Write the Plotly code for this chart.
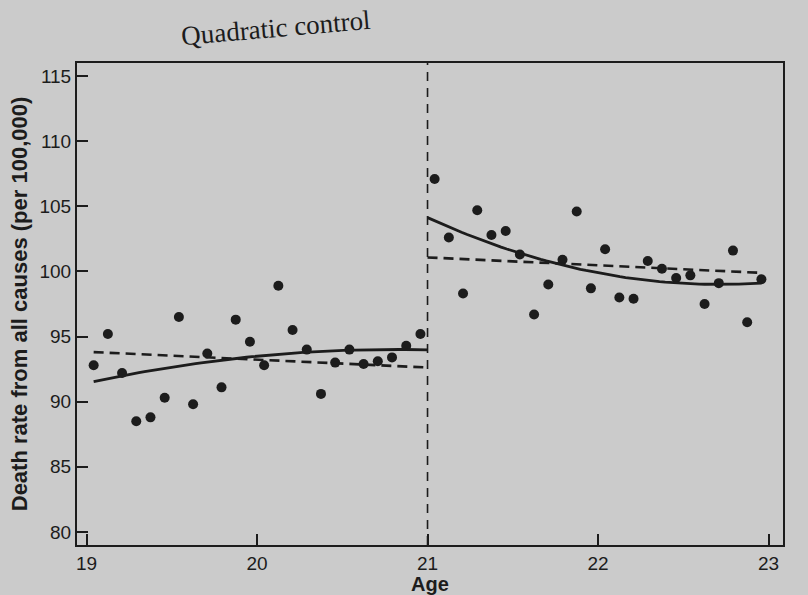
import numpy as np
import plotly.graph_objects as go

# Monthly death rates (per 100,000), ages 19-21 (below cutoff) and 21-23 (above)
ages_below = [19 + (i + 0.5) / 12 for i in range(24)]
rates_below = [92.8, 95.2, 92.2, 88.5, 88.8, 90.3, 96.5, 89.8, 93.7, 91.1, 96.3, 94.6,
               92.8, 98.9, 95.5, 94.0, 90.6, 93.0, 94.0, 92.9, 93.1, 93.4, 94.3, 95.2]
ages_above = [21 + (i + 0.5) / 12 for i in range(24)]
rates_above = [107.1, 102.6, 98.3, 104.7, 102.8, 103.1, 101.3, 96.7, 99.0, 100.9, 104.6, 98.7,
               101.7, 98.0, 97.9, 100.8, 100.2, 99.5, 99.7, 97.5, 99.1, 101.6, 96.1, 99.4]
x_ticks = [19, 20, 21, 22, 23]
y_ticks = [80, 85, 90, 95, 100, 105, 110, 115]
cutoff = 21

ink = "#1c1c1c"
paper = "#cbcbcb"

xb = np.array(ages_below); yb = np.array(rates_below)
xa = np.array(ages_above); ya = np.array(rates_above)

# Linear model: over-21 dummy + common slope in age
X = np.concatenate([xb, xa]) - cutoff
D = np.concatenate([np.zeros(len(xb)), np.ones(len(xa))])
Y = np.concatenate([yb, ya])
A = np.column_stack([np.ones_like(X), X, D])
coef, *_ = np.linalg.lstsq(A, Y, rcond=None)

gb = np.linspace(xb.min(), cutoff, 60)
ga = np.linspace(cutoff, xa.max(), 60)
lin_b = coef[0] + coef[1] * (gb - cutoff)
lin_a = coef[0] + coef[2] + coef[1] * (ga - cutoff)

# Quadratic model interacted with the dummy (separate quadratics per side)
qb = np.polyval(np.polyfit(xb - cutoff, yb, 2), gb - cutoff)
qa = np.polyval(np.polyfit(xa - cutoff, ya, 2), ga - cutoff)

fig = go.Figure()
marker = dict(color=ink, size=10)
fig.add_trace(go.Scatter(x=ages_below, y=rates_below, mode="markers", marker=marker, showlegend=False))
fig.add_trace(go.Scatter(x=ages_above, y=rates_above, mode="markers", marker=marker, showlegend=False))
dash_line = dict(color=ink, width=2.6, dash="10px,6px")
solid_line = dict(color=ink, width=2.8)
fig.add_trace(go.Scatter(x=gb, y=lin_b, mode="lines", line=dash_line, showlegend=False))
fig.add_trace(go.Scatter(x=ga, y=lin_a, mode="lines", line=dash_line, showlegend=False))
fig.add_trace(go.Scatter(x=gb, y=qb, mode="lines", line=solid_line, showlegend=False))
fig.add_trace(go.Scatter(x=ga, y=qa, mode="lines", line=solid_line, showlegend=False))

fig.add_vline(x=cutoff, line=dict(color=ink, width=1.6, dash="9px,7px"))

sans = "Liberation Sans, Arial, sans-serif"
tickfont = dict(family=sans, size=19, color=ink)
fig.update_xaxes(range=[18.944, 23.085], tickvals=x_ticks, ticktext=[str(v) for v in x_ticks],
                 ticks="inside", ticklen=11, tickwidth=1.5, tickcolor=ink, automargin=False,
                 showline=True, linecolor=ink, linewidth=2, mirror=True,
                 showgrid=False, zeroline=False, tickfont=tickfont,
                 title=dict(text="<b>Age</b>", font=dict(family=sans, size=20, color=ink), standoff=17))
fig.update_yaxes(range=[79.0, 116.0], tickvals=y_ticks, ticktext=[str(v) for v in y_ticks],
                 ticks="inside", ticklen=11, tickwidth=1.5, tickcolor=ink, automargin=False,
                 showline=True, linecolor=ink, linewidth=2, mirror=True,
                 showgrid=False, zeroline=False, tickfont=tickfont,
                 title=dict(text="<b>Death rate from all causes (per 100,000)</b>", font=dict(family=sans, size=22, color=ink), standoff=6))

fig.add_annotation(text="Quadratic control", xref="paper", yref="paper",
                   x=0.2815, y=1.072, xanchor="center", yanchor="middle", textangle=-5, showarrow=False,
                   font=dict(family="Liberation Serif, Times New Roman, serif", size=27, color=ink))

fig.update_layout(width=808, height=595, paper_bgcolor=paper, plot_bgcolor=paper,
                  margin=dict(l=77, r=25, t=63, b=50))
fig.write_html("out.html", config={"displayModeBar": False},
               post_script="document.body.style.margin='0';document.body.style.padding='0';"
                           "document.body.style.background='#cbcbcb';")
